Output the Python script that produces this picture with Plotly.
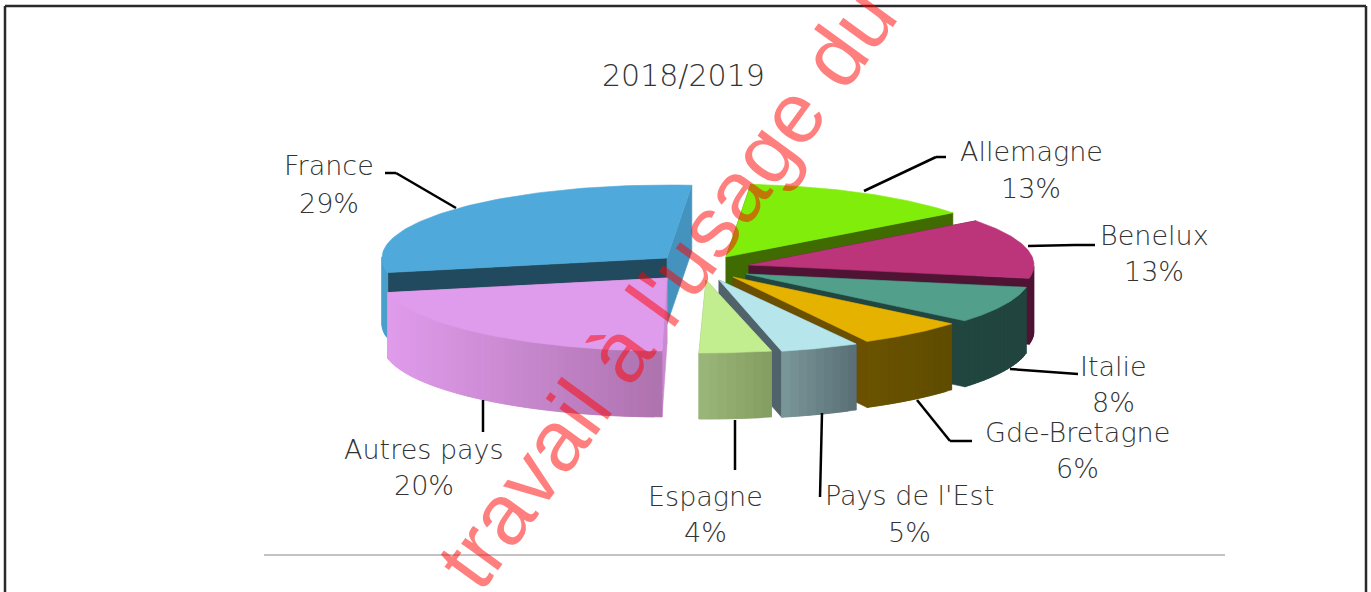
import numpy as np
import plotly.graph_objects as go

# ---------- data ----------
TITLE = "2018/2019"
categories = ["Allemagne", "Benelux", "Italie", "Gde-Bretagne", "Pays de l'Est", "Espagne", "Autres pays", "France"]
values = [13, 13, 8, 6, 5, 4, 20, 29]

# ---------- styling / layout ----------
top_colors = ["#80EE0A", "#BC357B", "#52A08C", "#E6B200", "#B6E6EC", "#C2EE90", "#E09CEC", "#4FAADB"]
radial_hi = ["#3F6B00", "#4F1434", "#21453F", "#6A5000", "#50636A", "#8CA56C", "#C98AD0", "#214A5E"]
radial_lo = ["#3F6B00", "#4F1434", "#21453F", "#6A5000", "#50636A", "#8CA56C", "#C98AD0", "#4393BE"]
wall_from = ["#3F6B00", "#4F1434", "#21453F", "#6B5300", "#7A9799", "#9BB77A", "#E09CEC", "#4D9FCB"]
wall_to = ["#3F6B00", "#4F1434", "#21453F", "#5F4C00", "#596F75", "#849C60", "#AE72AE", "#4D9FCB"]
apex_x = [726, 749, 746, 733, 719, 706, 667, 667]
apex_y = [257, 265, 274, 277, 280, 280, 278, 258]
nudge_hi = [0, 0, 0, 0, 0.7, 3.6, 4, 0]
nudge_lo = [0, 0, 0, 0, 3, 3.6, 0, 0]
RX, RY, DEPTH, START = 285, 73, 66, 85
FONT = "DejaVu Sans"
INK = "#333333"

label_x = [1031, 1154, 1113, 1077, 909, 705, 424, 329]
name_y = [151, 235, 366, 432, 495, 496, 449, 165]
pct_y = [188, 271, 402, 468, 532, 532, 485, 203]

leaders = [
    [(946, 157), (936, 157), (864, 191)],
    [(1095, 245), (1075, 245), (1028, 246)],
    [(1078, 374), (1010, 369)],
    [(972, 441), (950, 441), (917, 400)],
    [(820, 497), (822, 413)],
    [(735, 470), (735, 420)],
    [(483, 432), (483, 400)],
    [(385, 173), (396, 173), (456, 208)],
]


def mix(a, b, f):
    ca = [int(a[i:i + 2], 16) for i in (1, 3, 5)]
    cb = [int(b[i:i + 2], 16) for i in (1, 3, 5)]
    return "rgb(%d,%d,%d)" % tuple(round(p + (q - p) * f) for p, q in zip(ca, cb))


fig = go.Figure()


def poly(xs, ys, color):
    fig.add_trace(go.Scatter(x=list(xs), y=list(ys), mode="lines", fill="toself", fillcolor=color,
                             line=dict(color=color, width=0.6), hoverinfo="skip", showlegend=False))


def ex(cx, t):
    return cx + RX * np.cos(np.radians(t))


def ey(cy, t):
    return cy - RY * np.sin(np.radians(t))


# angular extents follow the values, clockwise from START
spans = [v / sum(values) * 360 for v in values]
hi = START - np.concatenate([[0], np.cumsum(spans)[:-1]])
lo = hi - np.array(spans)

for i in [7, 0, 1, 2, 3, 4, 5, 6]:
    cx, cy = apex_x[i], apex_y[i]
    t_hi, t_lo = hi[i] + nudge_hi[i], lo[i] + nudge_lo[i]
    # radial faces
    poly([cx, ex(cx, t_hi), ex(cx, t_hi), cx, cx], [cy, ey(cy, t_hi), ey(cy, t_hi) + DEPTH, cy + DEPTH, cy], radial_hi[i])
    poly([cx, ex(cx, t_lo), ex(cx, t_lo), cx, cx], [cy, ey(cy, t_lo), ey(cy, t_lo) + DEPTH, cy + DEPTH, cy], radial_lo[i])
    # outer wall, only where it faces the viewer; strips overlap to hide seams
    ts = np.linspace(t_lo, t_hi, max(int((t_hi - t_lo) / 1.5), 3))
    ts_mod = (ts + 360) % 360
    vis = ts[ts_mod > 178]
    if len(vis) > 1:
        vis = vis[np.argsort(ex(cx, vis))]
        xmin, xmax = ex(cx, vis).min(), ex(cx, vis).max()
        for j in range(len(vis) - 1, 0, -1):
            a, b = vis[j], vis[max(j - 2, 0)]
            f = (ex(cx, (vis[j] + vis[j - 1]) / 2) - xmin) / max(xmax - xmin, 1)
            poly([ex(cx, a), ex(cx, b), ex(cx, b), ex(cx, a), ex(cx, a)],
                 [ey(cy, a), ey(cy, b), ey(cy, b) + DEPTH, ey(cy, a) + DEPTH, ey(cy, a)],
                 mix(wall_from[i], wall_to[i], f))
    # top face
    arc = np.linspace(t_hi, t_lo, 80)
    poly(np.concatenate([[cx], ex(cx, arc), [cx]]), np.concatenate([[cy], ey(cy, arc), [cy]]), top_colors[i])

shapes = []
for pts in leaders:
    for p, q in zip(pts[:-1], pts[1:]):
        shapes.append(dict(type="line", xref="x", yref="y", x0=p[0], y0=p[1], x1=q[0], y1=q[1],
                           line=dict(color="#000000", width=2.5), layer="above"))
shapes += [
    dict(type="line", xref="x", yref="y", x0=264, x1=1225, y0=555, y1=555, line=dict(color="#888888", width=1)),
    dict(type="line", xref="x", yref="y", x0=5, x1=1366, y0=6, y1=6, line=dict(color="#2A2A2A", width=2.5)),
    dict(type="line", xref="x", yref="y", x0=5, x1=5, y0=6, y1=592, line=dict(color="#2A2A2A", width=2.5)),
    dict(type="line", xref="x", yref="y", x0=1366, x1=1366, y0=6, y1=592, line=dict(color="#2A2A2A", width=2.5)),
]

annotations = []


def note(text, x, y, size=27, **kw):
    annotations.append(dict(text=text, x=x, y=y, xref="x", yref="y", showarrow=False, xanchor="center",
                            yanchor="middle", font=dict(family=FONT, size=size, color=INK, weight=200), **kw))


note(TITLE, 683, 75, size=30)
for c, v, lx, ny, py in zip(categories, values, label_x, name_y, pct_y):
    note(c, lx, ny)
    note(f"{v}%", lx, py)

annotations.append(dict(text="travail à l'usage du", x=666, y=288, xref="x", yref="y", showarrow=False,
                        textangle=-54, xanchor="center", yanchor="middle",
                        font=dict(family="Liberation Sans", size=86, color="rgba(255,0,0,0.5)")))

fig.update_layout(
    width=1371, height=592, margin=dict(l=0, r=0, t=0, b=0),
    paper_bgcolor="white", plot_bgcolor="white", showlegend=False,
    xaxis=dict(range=[0, 1371], visible=False, fixedrange=True),
    yaxis=dict(range=[592, 0], visible=False, fixedrange=True),
    shapes=shapes, annotations=annotations,
)
fig.write_html("out.html", post_script="document.body.style.margin='0';", config=dict(displayModeBar=False))
